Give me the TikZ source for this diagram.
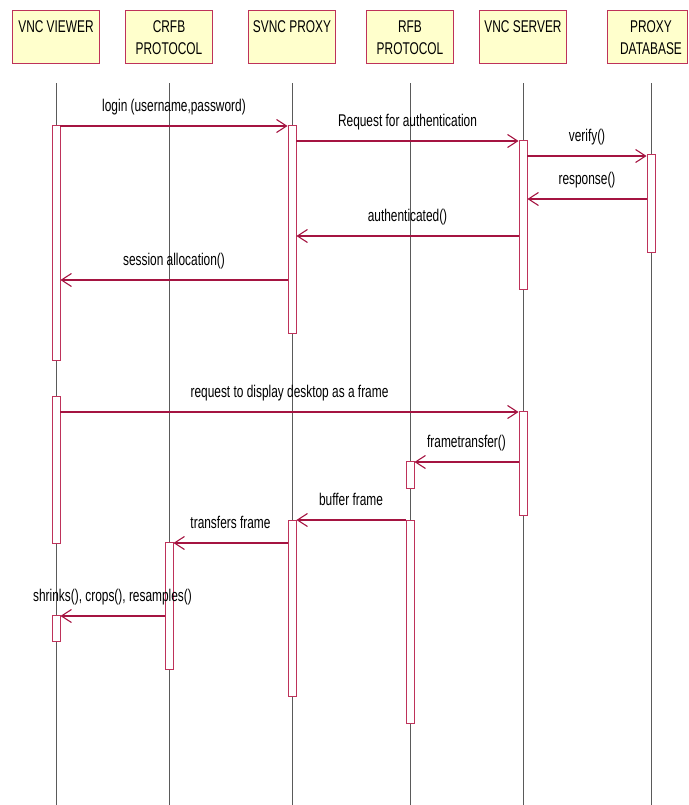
\documentclass[tikz,border=0pt]{standalone}
\usepackage{fontspec}
\setmainfont{Liberation Sans}[FakeStretch=0.70]
\usetikzlibrary{arrows.meta}
\definecolor{umlred}{RGB}{165,20,65}
\definecolor{barred}{RGB}{190,50,90}
\definecolor{headfill}{RGB}{255,255,204}
\definecolor{lifegray}{RGB}{90,90,90}
\begin{document}
\begin{tikzpicture}[x=1pt,y=-1pt,
  font=\fontsize{17}{22}\selectfont,
  head/.style={draw=barred, fill=headfill, line width=0.9pt, minimum width=87pt, minimum height=53pt, inner sep=0pt},
  htext/.style={anchor=base, inner sep=0pt},
  life/.style={draw=lifegray, line width=0.7pt},
  act/.style={draw=barred, fill=white, line width=0.9pt, minimum width=8pt, inner sep=0pt},
  msg/.style={draw=umlred, line width=1.1pt, -{Straight Barb[length=10pt,width=13pt]}},
  lbl/.style={midway, anchor=base, yshift=14.5pt, inner sep=0pt}]
\useasboundingbox (0,0) rectangle (688,805);

% object headers
\node[head] (vv) at (56,36.5) {};
\node[head] (cp) at (169,36.5) {};
\node[head] (sp) at (292,36.5) {};
\node[head] (rp) at (410,36.5) {};
\node[head] (vs) at (523,36.5) {};
\node[head, minimum width=80pt] (pd) at (647,36.5) {};

\node[htext] at ([yshift=-23pt]vv.north) {VNC VIEWER};
\node[htext] at ([yshift=-23pt]cp.north) {CRFB};
\node[htext] at ([yshift=-45pt]cp.north) {PROTOCOL};
\node[htext] at ([yshift=-23pt]sp.north) {SVNC PROXY};
\node[htext] at ([yshift=-23pt]rp.north) {RFB};
\node[htext] at ([yshift=-45pt]rp.north) {PROTOCOL};
\node[htext] at ([yshift=-23pt]vs.north) {VNC SERVER};
\node[htext] at ([xshift=4pt,yshift=-23pt]pd.north) {PROXY};
\node[htext] at ([xshift=4pt,yshift=-45pt]pd.north) {DATABASE};

% lifelines
\draw[life] ([yshift=-20pt]vv.south) -- ++(0,722);
\draw[life] ([yshift=-20pt]cp.south) -- ++(0,722);
\draw[life] ([yshift=-20pt]sp.south) -- ++(0,722);
\draw[life] ([yshift=-20pt]rp.south) -- ++(0,722);
\draw[life] ([yshift=-20pt]vs.south) -- ++(0,722);
\draw[life] ([xshift=4pt,yshift=-20pt]pd.south) -- ++(0,722);

% activation bars
\node[act, minimum height=235pt] (v1) at (56,242.5) {};
\node[act, minimum height=208pt] (p1) at (292,229) {};
\node[act, minimum height=149pt] (s1) at (523,214.5) {};
\node[act, minimum height=98pt]  (d1) at (651,203) {};
\node[act, minimum height=147pt] (v2) at (56,469.5) {};
\node[act, minimum height=104pt] (s2) at (523,463) {};
\node[act, minimum height=27pt]  (r1) at (410,474.5) {};
\node[act, minimum height=203pt] (r2) at (410,621.5) {};
\node[act, minimum height=176pt] (p2) at (292,608) {};
\node[act, minimum height=127pt] (c1) at (169,605.5) {};
\node[act, minimum height=26pt]  (v3) at (56,628) {};

% messages
\draw[msg] (v1.east |- 0,126) -- (p1.west |- 0,126) node[lbl] {login (username,password)};
\draw[msg] (p1.east |- 0,141) -- (s1.west |- 0,141) node[lbl] {Request for authentication};
\draw[msg] (s1.east |- 0,156) -- (d1.west |- 0,156) node[lbl] {verify()};
\draw[msg] (d1.west |- 0,199) -- (s1.east |- 0,199) node[lbl] {response()};
\draw[msg] (s1.west |- 0,236) -- (p1.east |- 0,236) node[lbl] {authenticated()};
\draw[msg] (p1.west |- 0,280) -- (v1.east |- 0,280) node[lbl] {session allocation()};
\draw[msg] (v2.east |- 0,412) -- (s2.west |- 0,412) node[lbl] {request to display desktop as a frame};
\draw[msg] (s2.west |- 0,462) -- (r1.east |- 0,462) node[lbl] {frametransfer()};
\draw[msg] (r2.west |- 0,520) -- (p2.east |- 0,520) node[lbl] {buffer frame};
\draw[msg] (p2.west |- 0,543) -- (c1.east |- 0,543) node[lbl] {transfers frame};
\draw[msg] (c1.west |- 0,616) -- (v3.east |- 0,616) node[lbl] {shrinks(), crops(), resamples()};
\end{tikzpicture}
\end{document}
